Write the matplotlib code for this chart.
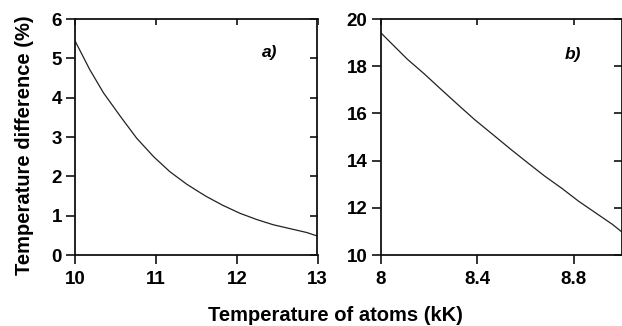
import matplotlib.pyplot as plt

plt.rcParams['font.family'] = ['Liberation Sans', 'DejaVu Sans']
plt.rcParams['font.weight'] = 'bold'

# panel a) temperature difference vs temperature of atoms
t_a = [10.0, 10.18, 10.35, 10.56, 10.76, 10.97, 11.17, 11.38, 11.55,
       11.63, 11.83, 12.04, 12.25, 12.45, 12.66, 12.87, 13.0]
d_a = [5.43, 4.71, 4.12, 3.52, 2.97, 2.50, 2.12, 1.80, 1.58,
       1.48, 1.26, 1.06, 0.90, 0.77, 0.67, 0.57, 0.48]

# panel b)
t_b = [8.0, 8.11, 8.18, 8.25, 8.32, 8.39, 8.47, 8.54, 8.61,
       8.68, 8.75, 8.82, 8.89, 8.96, 9.0]
d_b = [19.42, 18.30, 17.68, 17.02, 16.37, 15.73, 15.06, 14.47, 13.90,
       13.34, 12.83, 12.28, 11.79, 11.30, 10.97]

fig = plt.figure(figsize=(6.22, 3.26), dpi=100)
ax1 = fig.add_axes([75.3/622, 1-255/326, (317.5-75.3)/622, (255-19)/326])
ax2 = fig.add_axes([380.7/622, 1-255/326, (622-380.7)/622, (255-19)/326])

ax1.plot(t_a, d_a, color='#222222', lw=0.9)
ax2.plot(t_b, d_b, color='#222222', lw=0.9)

ax1.set_xlim(10, 13)
ax1.set_ylim(0, 6)
ax1.set_xticks([10, 11, 12, 13])
ax1.set_yticks(range(0, 7))

ax2.set_xlim(8, 9.0)
ax2.set_ylim(10, 20)
ax2.set_xticks([8, 8.4, 8.8])
ax2.set_xticklabels(['8', '8.4', '8.8'])
ax2.set_yticks(range(10, 21, 2))

for ax in (ax1, ax2):
    for s in ax.spines.values():
        s.set_linewidth(1.3)
        s.set_color('#111111')
    ax.tick_params(direction='out', length=6.5, width=1.2,
                   labelsize=13.5, color='#111111', pad=3)
    ax.tick_params(axis='x', pad=5)
    # inward ticks on top and right, no labels
    top = ax.secondary_xaxis('top')
    top.set_xticks(ax.get_xticks())
    top.tick_params(direction='in', length=4.5, width=1.2, labeltop=False,
                    color='#111111')
    top.spines['top'].set_visible(False)
    right = ax.secondary_yaxis('right')
    right.set_yticks(ax.get_yticks())
    right.tick_params(direction='in', length=6, width=1.2, labelright=False,
                      color='#111111')
    right.spines['right'].set_visible(False)

fig.text(270/622, 1-53/326, 'a)', fontsize=12.5, fontweight='bold',
         fontstyle='italic', ha='center', va='center')
fig.text(573/622, 1-55/326, 'b)', fontsize=12.5, fontweight='bold',
         fontstyle='italic', ha='center', va='center')

ax1.set_ylabel('Temperature difference (%)', fontsize=14.5, fontweight='bold')
ax1.yaxis.set_label_coords((34-75.3)/242.2, (255-145)/236)
fig.text(335/622, 1-321/326, 'Temperature of atoms (kK)', fontsize=14.5,
         fontweight='bold', ha='center', va='baseline')

fig.savefig('out.png', dpi=100)
